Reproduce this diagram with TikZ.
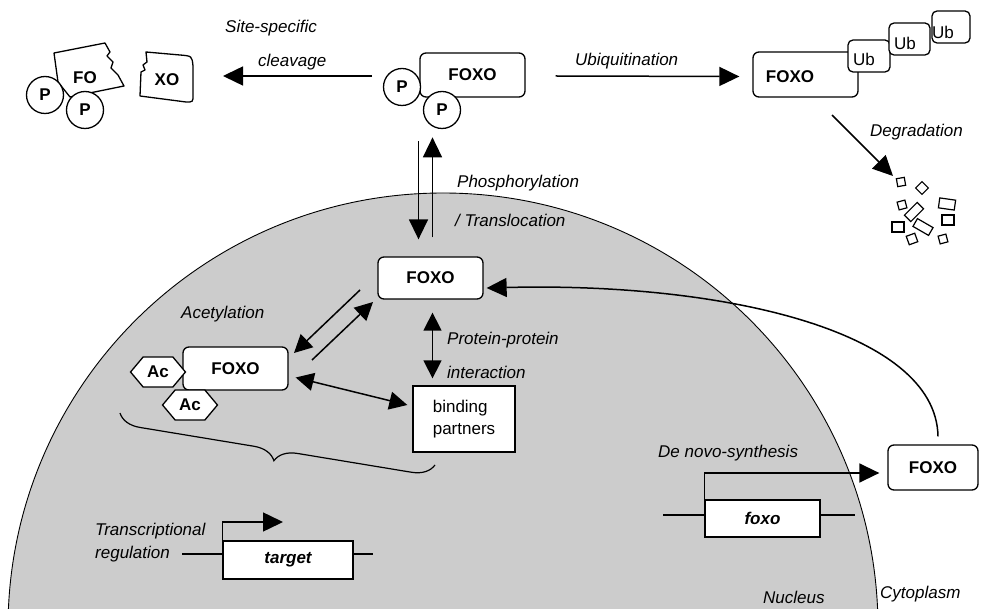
\documentclass[tikz,border=0pt]{standalone}
\usepackage{fontspec}
\setmainfont{Liberation Sans}
\usetikzlibrary{arrows.meta,shapes.symbols,decorations.pathreplacing,calc}
\definecolor{nucgrey}{RGB}{204,204,204}
\begin{document}
\begin{tikzpicture}[x=1pt,y=-1pt,
  every node/.style={font=\fontsize{17}{20}\selectfont},
  lbl/.style={font=\fontsize{17}{20}\selectfont\itshape, inner sep=0pt, anchor=base west},
  bx/.style={draw, fill=white, line width=1.3pt, inner sep=0pt, font=\fontsize{17}{20}\selectfont\bfseries},
  rbx/.style={bx, rounded corners=6pt},
  pc/.style={draw, fill=white, circle, line width=1.3pt, minimum size=37pt, inner sep=0pt, font=\fontsize{17}{20}\selectfont\bfseries},
  hexa/.style={draw, fill=white, signal, signal to=west and east, signal pointer angle=100, line width=1.3pt, minimum width=54pt, minimum height=30pt, inner xsep=4pt, inner ysep=5pt, font=\fontsize{17}{20}\selectfont\bfseries},
  ubbox/.style={draw, fill=white, rounded corners=5pt, line width=1.3pt, inner sep=0pt},
  plain/.style={inner sep=0pt, font=\fontsize{17}{20}\selectfont},
  boldtxt/.style={inner sep=0pt, font=\fontsize{17}{20}\selectfont\bfseries},
  arr/.style={line width=1.5pt, -{Triangle[length=20pt,width=19pt]}},
  darr/.style={line width=1.5pt, {Triangle[length=18pt,width=18pt]}-{Triangle[length=18pt,width=18pt]}},
  gene/.style={line width=1.3pt},
  deb/.style={draw, line width=1.2pt, inner sep=0pt}
]
\useasboundingbox (0,0) rectangle (985,609);
% nucleus
\begin{scope}
  \clip (0,0) rectangle (985,609);
  \fill[nucgrey] (443,628) circle (435pt);
  \draw[line width=0.9pt] (443,628) circle (435pt);
\end{scope}

% ---- cleaved FOXO (top left)
\draw[line width=1.3pt, fill=white, line join=round] (54,53) -- (105,43) -- (110,52) -- (107,56) -- (113,62) -- (111,68) -- (118,75) -- (124,86) -- (70,97) -- (58,82) -- cycle;
\node[boldtxt] (fo) at (85,78) {FO};
\node[pc] (p1) at (45,95) {P};
\node[pc] (p2) at (85,110) {P};
\draw[line width=1.3pt, fill=white, line join=round] (146,52) -- (180,55) .. controls (192,56) .. (193,66) -- (193,95) .. controls (193,102) .. (186,102) -- (140,96) -- (141,72) -- (145,70) -- (143,65) -- (147,62) -- cycle;
\node[boldtxt] (xo) at (167,80) {XO};

% ---- phosphorylated FOXO (top centre)
\node[rbx, minimum width=105pt, minimum height=44pt] (topF) at (472.5,75) {FOXO};
\node[pc] (p3) at (402,87) {P};
\node[pc] (p4) at (442,110) {P};

% ---- ubiquitinated FOXO (top right)
\node[rbx, minimum width=105pt, minimum height=45pt] (ubF) at (805.5,74.5) {};
\node[boldtxt] (ubFt) at (790,77) {FOXO};
\node[ubbox, minimum width=42pt, minimum height=32pt] (ub1) at (869,56) {};
\node[plain] (ub1t) at (864,59) {Ub};
\node[ubbox, minimum width=41pt, minimum height=32pt] (ub2) at (909.5,39) {};
\node[plain] (ub2t) at (905,43) {Ub};
\node[ubbox, minimum width=38pt, minimum height=32pt] (ub3) at (951,27) {};
\node[plain] (ub3t) at (943,32) {Ub};

% debris
\foreach \i/\x/\y/\w/\h/\r in {1/901/182/8/8/10, 2/922/188/9/9/45, 3/902/205/8/8/15, 4/914/212/18/9/45, 5/947/204/16/10/-8, 6/898/227/12/10/0, 7/948/220/12/10/0, 8/923/227/18/9/-30, 9/912/239/9/9/20, 10/943/239/8/8/15}
  \node[deb, minimum width=\w pt, minimum height=\h pt, rotate=\r] (d\i) at (\x,\y) {};

% ---- nuclear FOXO
\node[rbx, minimum width=105pt, minimum height=42pt] (midF) at (430.5,278) {FOXO};
\node[rbx, minimum width=105pt, minimum height=43pt] (acF) at (235.5,368.5) {FOXO};
\node[hexa] (ac1) at (158,372) {Ac};
\node[hexa] (ac2) at (190,405) {Ac};
\node[bx, font=\fontsize{17}{22}\selectfont, minimum width=102pt, minimum height=66pt, align=left] (bind) at (464,419) {binding\\partners};
\node[rbx, minimum width=90pt, minimum height=45pt] (rF) at (933,467.5) {FOXO};

% ---- genes
\draw[gene] (182,554) -- (373,554);
\node[bx, font=\fontsize{17}{20}\selectfont\bfseries\itshape, minimum width=130pt, minimum height=38pt] (tgt) at (288,560) {target};
\draw[gene] (663,515) -- (855,515);
\node[bx, font=\fontsize{17}{20}\selectfont\bfseries\itshape, minimum width=115pt, minimum height=37pt] (fx) at (762.5,518.5) {foxo};

% ---- labels
\node[lbl] (l1) at (225,33) {Site-specific};
\node[lbl] (l2) at (258,67) {cleavage};
\node[lbl] (l3) at (575,66) {Ubiquitination};
\node[lbl] (l4) at (870,137) {Degradation};
\node[lbl] (l5) at (457,188) {Phosphorylation};
\node[lbl] (l6) at (455,227) {/ Translocation};
\node[lbl] (l7) at (181,319) {Acetylation};
\node[lbl] (l8) at (447,345) {Protein-protein};
\node[lbl] (l9) at (447,379) {interaction};
\node[lbl] (l10) at (658,457) {De novo-synthesis};
\node[lbl] (l11) at (763,603) {Nucleus};
\node[lbl] (l12) at (880,598) {Cytoplasm};
\node[lbl] (l13) at (95,535) {Transcriptional};
\node[lbl] (l14) at (95,558) {regulation};

% ---- brace
\coordinate (brL) at (120,413);
\coordinate (brR) at (435,465);
\draw[line width=1.2pt, decorate, decoration={brace, amplitude=22pt, mirror}] (brL) -- (brR);

% ---- connectors
\coordinate (clS) at (372,76);
\coordinate (clE) at (223,76);
\draw[arr] (clS) -- (clE);
\draw[arr] ([xshift=30pt,yshift=-1pt]topF.east) -- ([xshift=-13pt,yshift=-2pt]ubF.west);
\coordinate (dgS) at (832,115);
\coordinate (dgE) at (893,176);
\draw[arr] (dgS) -- (dgE);
\draw[arr] ([xshift=-12pt,yshift=115pt]midF.north) -- ([xshift=-12pt,yshift=17pt]midF.north);
\draw[arr] ([xshift=2pt,yshift=19pt]midF.north) -- ([xshift=2pt,yshift=119pt]midF.north);
\coordinate (a1S) at (360,290);
\coordinate (a1E) at (294,353);
\coordinate (a2S) at (312,360);
\coordinate (a2E) at (373,302);
\draw[arr, -{Triangle[length=18pt,width=18pt]}] (a1S) -- (a1E);
\draw[arr, -{Triangle[length=18pt,width=18pt]}] (a2S) -- (a2E);
\draw[darr] ([xshift=7pt,yshift=-9pt]acF.east) -- ([xshift=-5pt,yshift=14pt]bind.west);
\draw[darr] ([xshift=2pt,yshift=-13pt]midF.south) -- ([xshift=2pt,yshift=7pt]midF.south |- bind.north);
\draw[arr] ([xshift=5pt,yshift=8pt]rF.north) .. controls (936,330) and (720,282) .. ([xshift=3pt,yshift=-10pt]midF.east);
\draw[arr] (fx.north west) |- ([xshift=-8pt,yshift=-5.5pt]rF.west);
\coordinate (tgE) at (283,522);
\draw[arr] (tgt.north west) |- (tgE);
\end{tikzpicture}
\end{document}
